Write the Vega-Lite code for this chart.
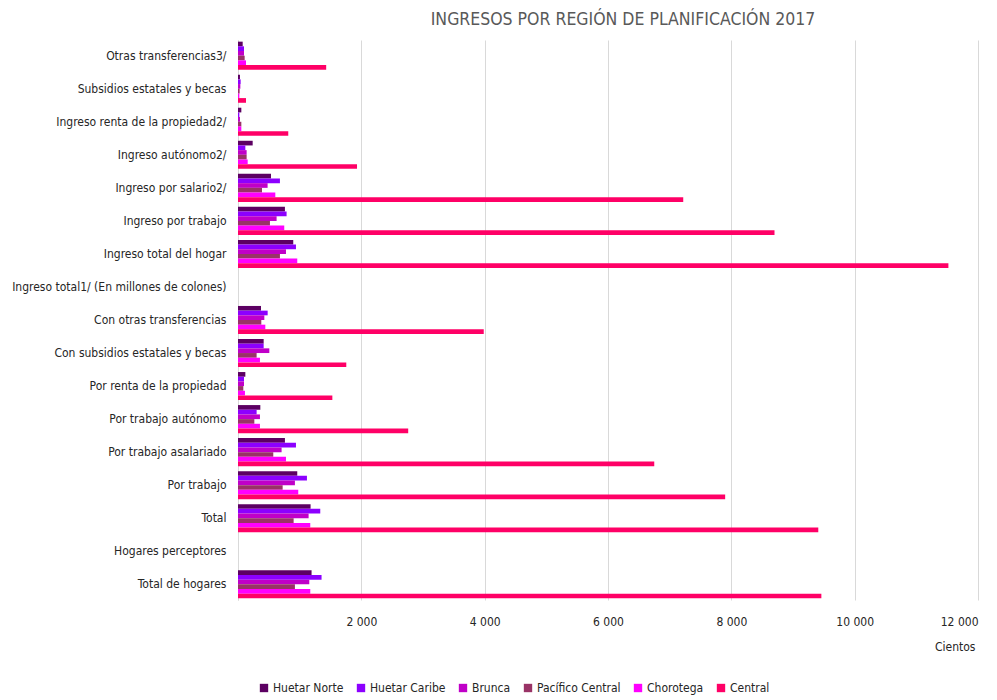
{
  "$schema": "https://vega.github.io/schema/vega-lite/v6.json",
  "autosize": {"type": "none"},
  "width": 740,
  "height": 560,
  "padding": {"left": 238, "top": 40, "right": 19, "bottom": 100},
  "background": "white",
  "config": {
    "font": "DejaVu Sans Condensed, Roboto, sans-serif",
    "view": {"stroke": null}
  },
  "title": {
    "text": "INGRESOS POR REGIÓN DE PLANIFICACIÓN 2017",
    "anchor": "middle",
    "dx": 15,
    "offset": 12,
    "fontSize": 17.5,
    "fontWeight": "normal",
    "color": "#595959",
    "font": "DejaVu Sans Condensed, Roboto, sans-serif"
  },
  "data": {
    "values": [
      {"cat": "Otras transferencias3/", "region": "Huetar Norte", "v": 76},
      {"cat": "Otras transferencias3/", "region": "Huetar Caribe", "v": 97},
      {"cat": "Otras transferencias3/", "region": "Brunca", "v": 97},
      {"cat": "Otras transferencias3/", "region": "Pacífico Central", "v": 108},
      {"cat": "Otras transferencias3/", "region": "Chorotega", "v": 130},
      {"cat": "Otras transferencias3/", "region": "Central", "v": 1430},
      {"cat": "Subsidios estatales y becas", "region": "Huetar Norte", "v": 32},
      {"cat": "Subsidios estatales y becas", "region": "Huetar Caribe", "v": 43},
      {"cat": "Subsidios estatales y becas", "region": "Brunca", "v": 38},
      {"cat": "Subsidios estatales y becas", "region": "Pacífico Central", "v": 27},
      {"cat": "Subsidios estatales y becas", "region": "Chorotega", "v": 22},
      {"cat": "Subsidios estatales y becas", "region": "Central", "v": 130},
      {"cat": "Ingreso renta de la propiedad2/", "region": "Huetar Norte", "v": 54},
      {"cat": "Ingreso renta de la propiedad2/", "region": "Huetar Caribe", "v": 22},
      {"cat": "Ingreso renta de la propiedad2/", "region": "Brunca", "v": 32},
      {"cat": "Ingreso renta de la propiedad2/", "region": "Pacífico Central", "v": 54},
      {"cat": "Ingreso renta de la propiedad2/", "region": "Chorotega", "v": 54},
      {"cat": "Ingreso renta de la propiedad2/", "region": "Central", "v": 815},
      {"cat": "Ingreso autónomo2/", "region": "Huetar Norte", "v": 238},
      {"cat": "Ingreso autónomo2/", "region": "Huetar Caribe", "v": 119},
      {"cat": "Ingreso autónomo2/", "region": "Brunca", "v": 140},
      {"cat": "Ingreso autónomo2/", "region": "Pacífico Central", "v": 140},
      {"cat": "Ingreso autónomo2/", "region": "Chorotega", "v": 157},
      {"cat": "Ingreso autónomo2/", "region": "Central", "v": 1930},
      {"cat": "Ingreso por salario2/", "region": "Huetar Norte", "v": 535},
      {"cat": "Ingreso por salario2/", "region": "Huetar Caribe", "v": 680},
      {"cat": "Ingreso por salario2/", "region": "Brunca", "v": 480},
      {"cat": "Ingreso por salario2/", "region": "Pacífico Central", "v": 389},
      {"cat": "Ingreso por salario2/", "region": "Chorotega", "v": 605},
      {"cat": "Ingreso por salario2/", "region": "Central", "v": 7220},
      {"cat": "Ingreso por trabajo", "region": "Huetar Norte", "v": 761},
      {"cat": "Ingreso por trabajo", "region": "Huetar Caribe", "v": 788},
      {"cat": "Ingreso por trabajo", "region": "Brunca", "v": 626},
      {"cat": "Ingreso por trabajo", "region": "Pacífico Central", "v": 518},
      {"cat": "Ingreso por trabajo", "region": "Chorotega", "v": 750},
      {"cat": "Ingreso por trabajo", "region": "Central", "v": 8700},
      {"cat": "Ingreso total del hogar", "region": "Huetar Norte", "v": 896},
      {"cat": "Ingreso total del hogar", "region": "Huetar Caribe", "v": 940},
      {"cat": "Ingreso total del hogar", "region": "Brunca", "v": 778},
      {"cat": "Ingreso total del hogar", "region": "Pacífico Central", "v": 680},
      {"cat": "Ingreso total del hogar", "region": "Chorotega", "v": 961},
      {"cat": "Ingreso total del hogar", "region": "Central", "v": 11520},
      {"cat": "Con otras transferencias", "region": "Huetar Norte", "v": 373},
      {"cat": "Con otras transferencias", "region": "Huetar Caribe", "v": 481},
      {"cat": "Con otras transferencias", "region": "Brunca", "v": 427},
      {"cat": "Con otras transferencias", "region": "Pacífico Central", "v": 378},
      {"cat": "Con otras transferencias", "region": "Chorotega", "v": 443},
      {"cat": "Con otras transferencias", "region": "Central", "v": 3985},
      {"cat": "Con subsidios estatales y becas", "region": "Huetar Norte", "v": 416},
      {"cat": "Con subsidios estatales y becas", "region": "Huetar Caribe", "v": 416},
      {"cat": "Con subsidios estatales y becas", "region": "Brunca", "v": 508},
      {"cat": "Con subsidios estatales y becas", "region": "Pacífico Central", "v": 302},
      {"cat": "Con subsidios estatales y becas", "region": "Chorotega", "v": 356},
      {"cat": "Con subsidios estatales y becas", "region": "Central", "v": 1756},
      {"cat": "Por renta de la propiedad", "region": "Huetar Norte", "v": 119},
      {"cat": "Por renta de la propiedad", "region": "Huetar Caribe", "v": 97},
      {"cat": "Por renta de la propiedad", "region": "Brunca", "v": 97},
      {"cat": "Por renta de la propiedad", "region": "Pacífico Central", "v": 86},
      {"cat": "Por renta de la propiedad", "region": "Chorotega", "v": 113},
      {"cat": "Por renta de la propiedad", "region": "Central", "v": 1530},
      {"cat": "Por trabajo autónomo", "region": "Huetar Norte", "v": 362},
      {"cat": "Por trabajo autónomo", "region": "Huetar Caribe", "v": 302},
      {"cat": "Por trabajo autónomo", "region": "Brunca", "v": 356},
      {"cat": "Por trabajo autónomo", "region": "Pacífico Central", "v": 265},
      {"cat": "Por trabajo autónomo", "region": "Chorotega", "v": 356},
      {"cat": "Por trabajo autónomo", "region": "Central", "v": 2760},
      {"cat": "Por trabajo asalariado", "region": "Huetar Norte", "v": 761},
      {"cat": "Por trabajo asalariado", "region": "Huetar Caribe", "v": 940},
      {"cat": "Por trabajo asalariado", "region": "Brunca", "v": 707},
      {"cat": "Por trabajo asalariado", "region": "Pacífico Central", "v": 572},
      {"cat": "Por trabajo asalariado", "region": "Chorotega", "v": 778},
      {"cat": "Por trabajo asalariado", "region": "Central", "v": 6750},
      {"cat": "Por trabajo", "region": "Huetar Norte", "v": 961},
      {"cat": "Por trabajo", "region": "Huetar Caribe", "v": 1118},
      {"cat": "Por trabajo", "region": "Brunca", "v": 923},
      {"cat": "Por trabajo", "region": "Pacífico Central", "v": 724},
      {"cat": "Por trabajo", "region": "Chorotega", "v": 977},
      {"cat": "Por trabajo", "region": "Central", "v": 7900},
      {"cat": "Total", "region": "Huetar Norte", "v": 1177},
      {"cat": "Total", "region": "Huetar Caribe", "v": 1334},
      {"cat": "Total", "region": "Brunca", "v": 1145},
      {"cat": "Total", "region": "Pacífico Central", "v": 902},
      {"cat": "Total", "region": "Chorotega", "v": 1172},
      {"cat": "Total", "region": "Central", "v": 9410},
      {"cat": "Total de hogares", "region": "Huetar Norte", "v": 1193},
      {"cat": "Total de hogares", "region": "Huetar Caribe", "v": 1355},
      {"cat": "Total de hogares", "region": "Brunca", "v": 1156},
      {"cat": "Total de hogares", "region": "Pacífico Central", "v": 923},
      {"cat": "Total de hogares", "region": "Chorotega", "v": 1172},
      {"cat": "Total de hogares", "region": "Central", "v": 9460}
    ]
  },
  "mark": {"type": "bar", "strokeWidth": 0},
  "encoding": {
    "y": {
      "field": "cat",
      "type": "nominal",
      "scale": {
        "domain": ["Otras transferencias3/", "Subsidios estatales y becas", "Ingreso renta de la propiedad2/", "Ingreso autónomo2/", "Ingreso por salario2/", "Ingreso por trabajo", "Ingreso total del hogar", "Ingreso total1/ (En millones de colones)", "Con otras transferencias", "Con subsidios estatales y becas", "Por renta de la propiedad", "Por trabajo autónomo", "Por trabajo asalariado", "Por trabajo", "Total", "Hogares perceptores", "Total de hogares"],
        "paddingInner": 0.15,
        "paddingOuter": 0.05
      },
      "axis": {
        "title": null,
        "ticks": false,
        "labelPadding": 12,
        "labelFontSize": 12,
        "labelColor": "#262626",
        "labelLimit": 300,
        "domainColor": "#d9d9d9",
        "grid": false
      }
    },
    "yOffset": {
      "field": "region",
      "type": "nominal",
      "sort": ["Huetar Norte", "Huetar Caribe", "Brunca", "Pacífico Central", "Chorotega", "Central"],
      "scale": {"paddingInner": 0, "paddingOuter": 0}
    },
    "x": {
      "field": "v",
      "type": "quantitative",
      "scale": {"domain": [0, 12000], "nice": false},
      "axis": {
        "title": "Cientos",
        "titleAlign": "right",
        "titleFontWeight": "normal",
        "titleFontSize": 12,
        "titleColor": "#262626",
        "titleX": 737,
        "titleY": 41,
        "values": [0, 2000, 4000, 6000, 8000, 10000, 12000],
        "labelExpr": "datum.value == 0 ? '' : replace(format(datum.value, ','), ',', ' ')",
        "labelFontSize": 12,
        "labelColor": "#262626",
        "labelPadding": 16,
        "ticks": false,
        "domain": false,
        "grid": true,
        "gridColor": "#d9d9d9"
      }
    },
    "color": {
      "field": "region",
      "type": "nominal",
      "scale": {
        "domain": ["Huetar Norte", "Huetar Caribe", "Brunca", "Pacífico Central", "Chorotega", "Central"],
        "range": ["#5c0062", "#8c00ff", "#c000c8", "#993366", "#ff00ff", "#ff0066"]
      },
      "legend": {
        "title": null,
        "orient": "none",
        "direction": "horizontal",
        "legendX": 20,
        "legendY": 642,
        "symbolType": "square",
        "symbolSize": 70,
        "symbolStrokeWidth": 0,
        "labelFontSize": 12,
        "labelColor": "#262626",
        "columnPadding": 11,
        "labelOffset": 3
      }
    }
  }
}
